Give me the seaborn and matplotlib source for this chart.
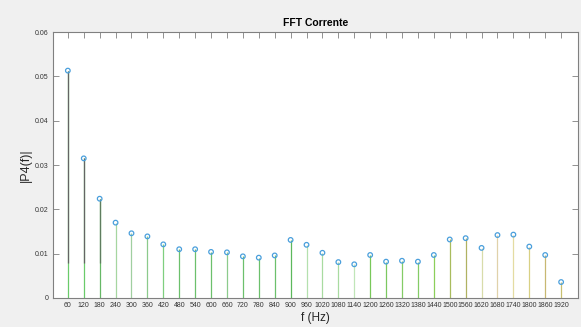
import numpy as np
import pandas as pd
import matplotlib
matplotlib.use("Agg")
import matplotlib.pyplot as plt
import seaborn as sns

# harmonics (Hz) and FFT magnitude
freq = np.arange(60, 1921, 60)
mag = [0.0513, 0.0315, 0.0224, 0.0170, 0.0146, 0.0139, 0.0121, 0.0110,
       0.0110, 0.0104, 0.0103, 0.0094, 0.0091, 0.0096, 0.0131, 0.0120,
       0.0102, 0.0081, 0.0076, 0.0097, 0.0082, 0.0084, 0.0082, 0.0097,
       0.0132, 0.0135, 0.0113, 0.0142, 0.0143, 0.0116, 0.0097, 0.0036]

# stem colours (lower part)
stem_colors = ['#6acb6a', '#6acb6a', '#66b866', '#a6d6a0', '#a0cfa0', '#8cca8c',
               '#7fcf7f', '#6cc06c', '#6cc06c', '#6cc06c', '#8ccb8c', '#6cc06c',
               '#6cc06c', '#6cc06c', '#5cb85c', '#b4e0ae', '#a8dba0', '#a8dba0',
               '#c0e6b8', '#78c85a', '#7cc860', '#84cc66', '#84cc66', '#8ccf5a',
               '#a9bc5e', '#b0b262', '#d8dcaa', '#e0d2aa', '#e4dca2', '#d8d084',
               '#c8b872', '#c8c070']
# darker upper part on the first harmonics
upper_color = ['#646464', '#646464', '#5f7d5f'] + [None] * 29
upper_from = 0.008

df = pd.DataFrame({'f': freq, 'P4': mag})

sns.set_style("white")
plt.rcParams['font.family'] = ['Liberation Sans', 'DejaVu Sans']

fig = plt.figure(figsize=(5.81, 3.27), dpi=100, facecolor='#f0f0f0')
ax = fig.add_axes([0.0912, 0.0887, 0.9038, 0.8133])
ax.set_facecolor('white')

ax.vlines(df['f'], 0, df['P4'], colors=stem_colors, linewidth=0.9, zorder=2)
for f, p, c in zip(freq, mag, upper_color):
    if c is not None:
        ax.vlines(f, upper_from, p, colors=c, linewidth=0.9, zorder=2)

sns.scatterplot(data=df, x='f', y='P4', ax=ax, marker='o', s=11,
                facecolor='none', edgecolor='#4a9fdc', linewidth=0.9, zorder=3)

ax.set_xlim(4, 1984)
ax.set_ylim(0, 0.06)
ax.set_xticks(freq)
ax.set_xticklabels([str(v) for v in freq], fontsize=5, color='#333333')
ax.set_yticks([0, 0.01, 0.02, 0.03, 0.04, 0.05, 0.06])
ax.set_yticklabels(['0', '0.01', '0.02', '0.03', '0.04', '0.05', '0.06'],
                   fontsize=5, color='#333333')
ax.tick_params(direction='in', length=4, width=0.6, color='#808080',
               top=True, right=True, bottom=True, left=True, pad=3)

for s in ax.spines.values():
    s.set_color('#808080')
    s.set_linewidth(0.8)

ax.set_title('FFT Corrente', fontsize=7.5, fontweight='bold', color='black', pad=4)
ax.set_xlabel('f (Hz)', fontsize=8.5, color='#262626', labelpad=2)
ax.set_ylabel('|P4(f)|', fontsize=9, color='#262626', labelpad=2)

fig.savefig('out.png', dpi=100, facecolor=fig.get_facecolor())
